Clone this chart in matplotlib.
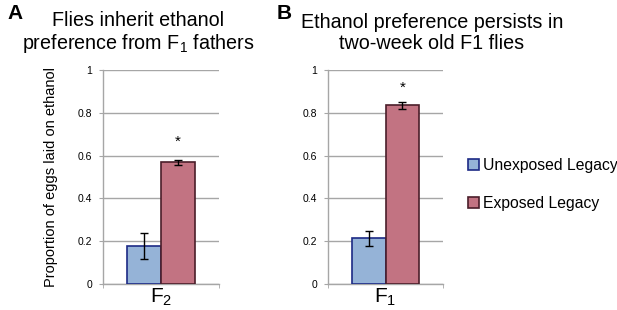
import numpy as np
import matplotlib.pyplot as plt

plt.rcParams['font.family'] = ['Liberation Sans', 'DejaVu Sans']

# data
series = ['Unexposed Legacy', 'Exposed Legacy']
panel_a_vals = [0.178, 0.569]
panel_a_err = [0.06, 0.012]
panel_b_vals = [0.214, 0.835]
panel_b_err = [0.035, 0.015]
panel_a_cat = r'$\mathregular{F_2}$'
panel_b_cat = r'$\mathregular{F_1}$'
yticks = [0, 0.2, 0.4, 0.6, 0.8, 1]
ytick_labels = ['0', '0.2', '0.4', '0.6', '0.8', '1']

fill_colors = ['#95B3D7', '#C27382']
edge_colors = ['#1C2A85', '#4A1E2A']
grid_col = '#A6A6A6'


def draw_panel(ax, vals, errs, cat, star_y):
    bars = []
    for i, (v, e) in enumerate(zip(vals, errs)):
        pos = -0.145 + 0.29 * i
        b = ax.bar(pos, v, width=0.29, color=fill_colors[i], edgecolor=edge_colors[i],
                   linewidth=1.2, zorder=3, label=series[i])
        ax.errorbar(pos, v, yerr=e, fmt='none', ecolor='black', elinewidth=1.0,
                    capsize=3, capthick=1.0, zorder=4)
        bars.append(b)
    ax.text(0.145, star_y, '*', ha='center', va='center', fontsize=11)
    ax.set_xlim(-0.5, 0.5)
    ax.set_ylim(0, 1)
    ax.set_yticks(yticks)
    ax.set_yticklabels(ytick_labels, fontsize=7.5)
    ax.yaxis.grid(True, color=grid_col, linewidth=1.0, zorder=0)
    ax.set_axisbelow(True)
    ax.set_xticks([0])
    ax.set_xticklabels([cat], fontsize=15)
    ax.set_xticks([-0.5, 0.5], minor=True)
    ax.tick_params(axis='x', which='major', length=0, pad=2)
    ax.tick_params(axis='x', which='minor', length=3, color=grid_col, direction='out')
    ax.tick_params(axis='y', length=3, color=grid_col, direction='out', pad=5)
    for s in ['top', 'right']:
        ax.spines[s].set_visible(False)
    for s in ['left', 'bottom']:
        ax.spines[s].set_color(grid_col)
        ax.spines[s].set_linewidth(1.0)
    return bars


fig = plt.figure(figsize=(6.17, 3.10), dpi=100)
ax1 = fig.add_axes([0.167, 0.084, 0.188, 0.690])
ax2 = fig.add_axes([0.532, 0.084, 0.186, 0.690])

bars = draw_panel(ax1, panel_a_vals, panel_a_err, panel_a_cat, 0.665)
draw_panel(ax2, panel_b_vals, panel_b_err, panel_b_cat, 0.915)

ax1.set_ylabel('Proportion of eggs laid on ethanol', fontsize=10.5, labelpad=14)

fig.text(0.224, 0.893, 'Flies inherit ethanol\npreference from $\\mathregular{F_1}$ fathers',
         ha='center', va='center', fontsize=14.2, linespacing=1.1)
fig.text(0.70, 0.893, 'Ethanol preference persists in\ntwo-week old F1 flies',
         ha='center', va='center', fontsize=14.2, linespacing=1.1)
fig.text(0.012, 0.955, 'A', fontsize=15, fontweight='bold', va='center')
fig.text(0.448, 0.955, 'B', fontsize=15, fontweight='bold', va='center')

fig.legend(handles=bars, labels=series, loc='center left', bbox_to_anchor=(0.748, 0.405),
           frameon=False, fontsize=11.3, handlelength=0.7, handleheight=0.7,
           handletextpad=0.3, labelspacing=1.5, borderaxespad=0)

fig.savefig('out.png', dpi=100)
